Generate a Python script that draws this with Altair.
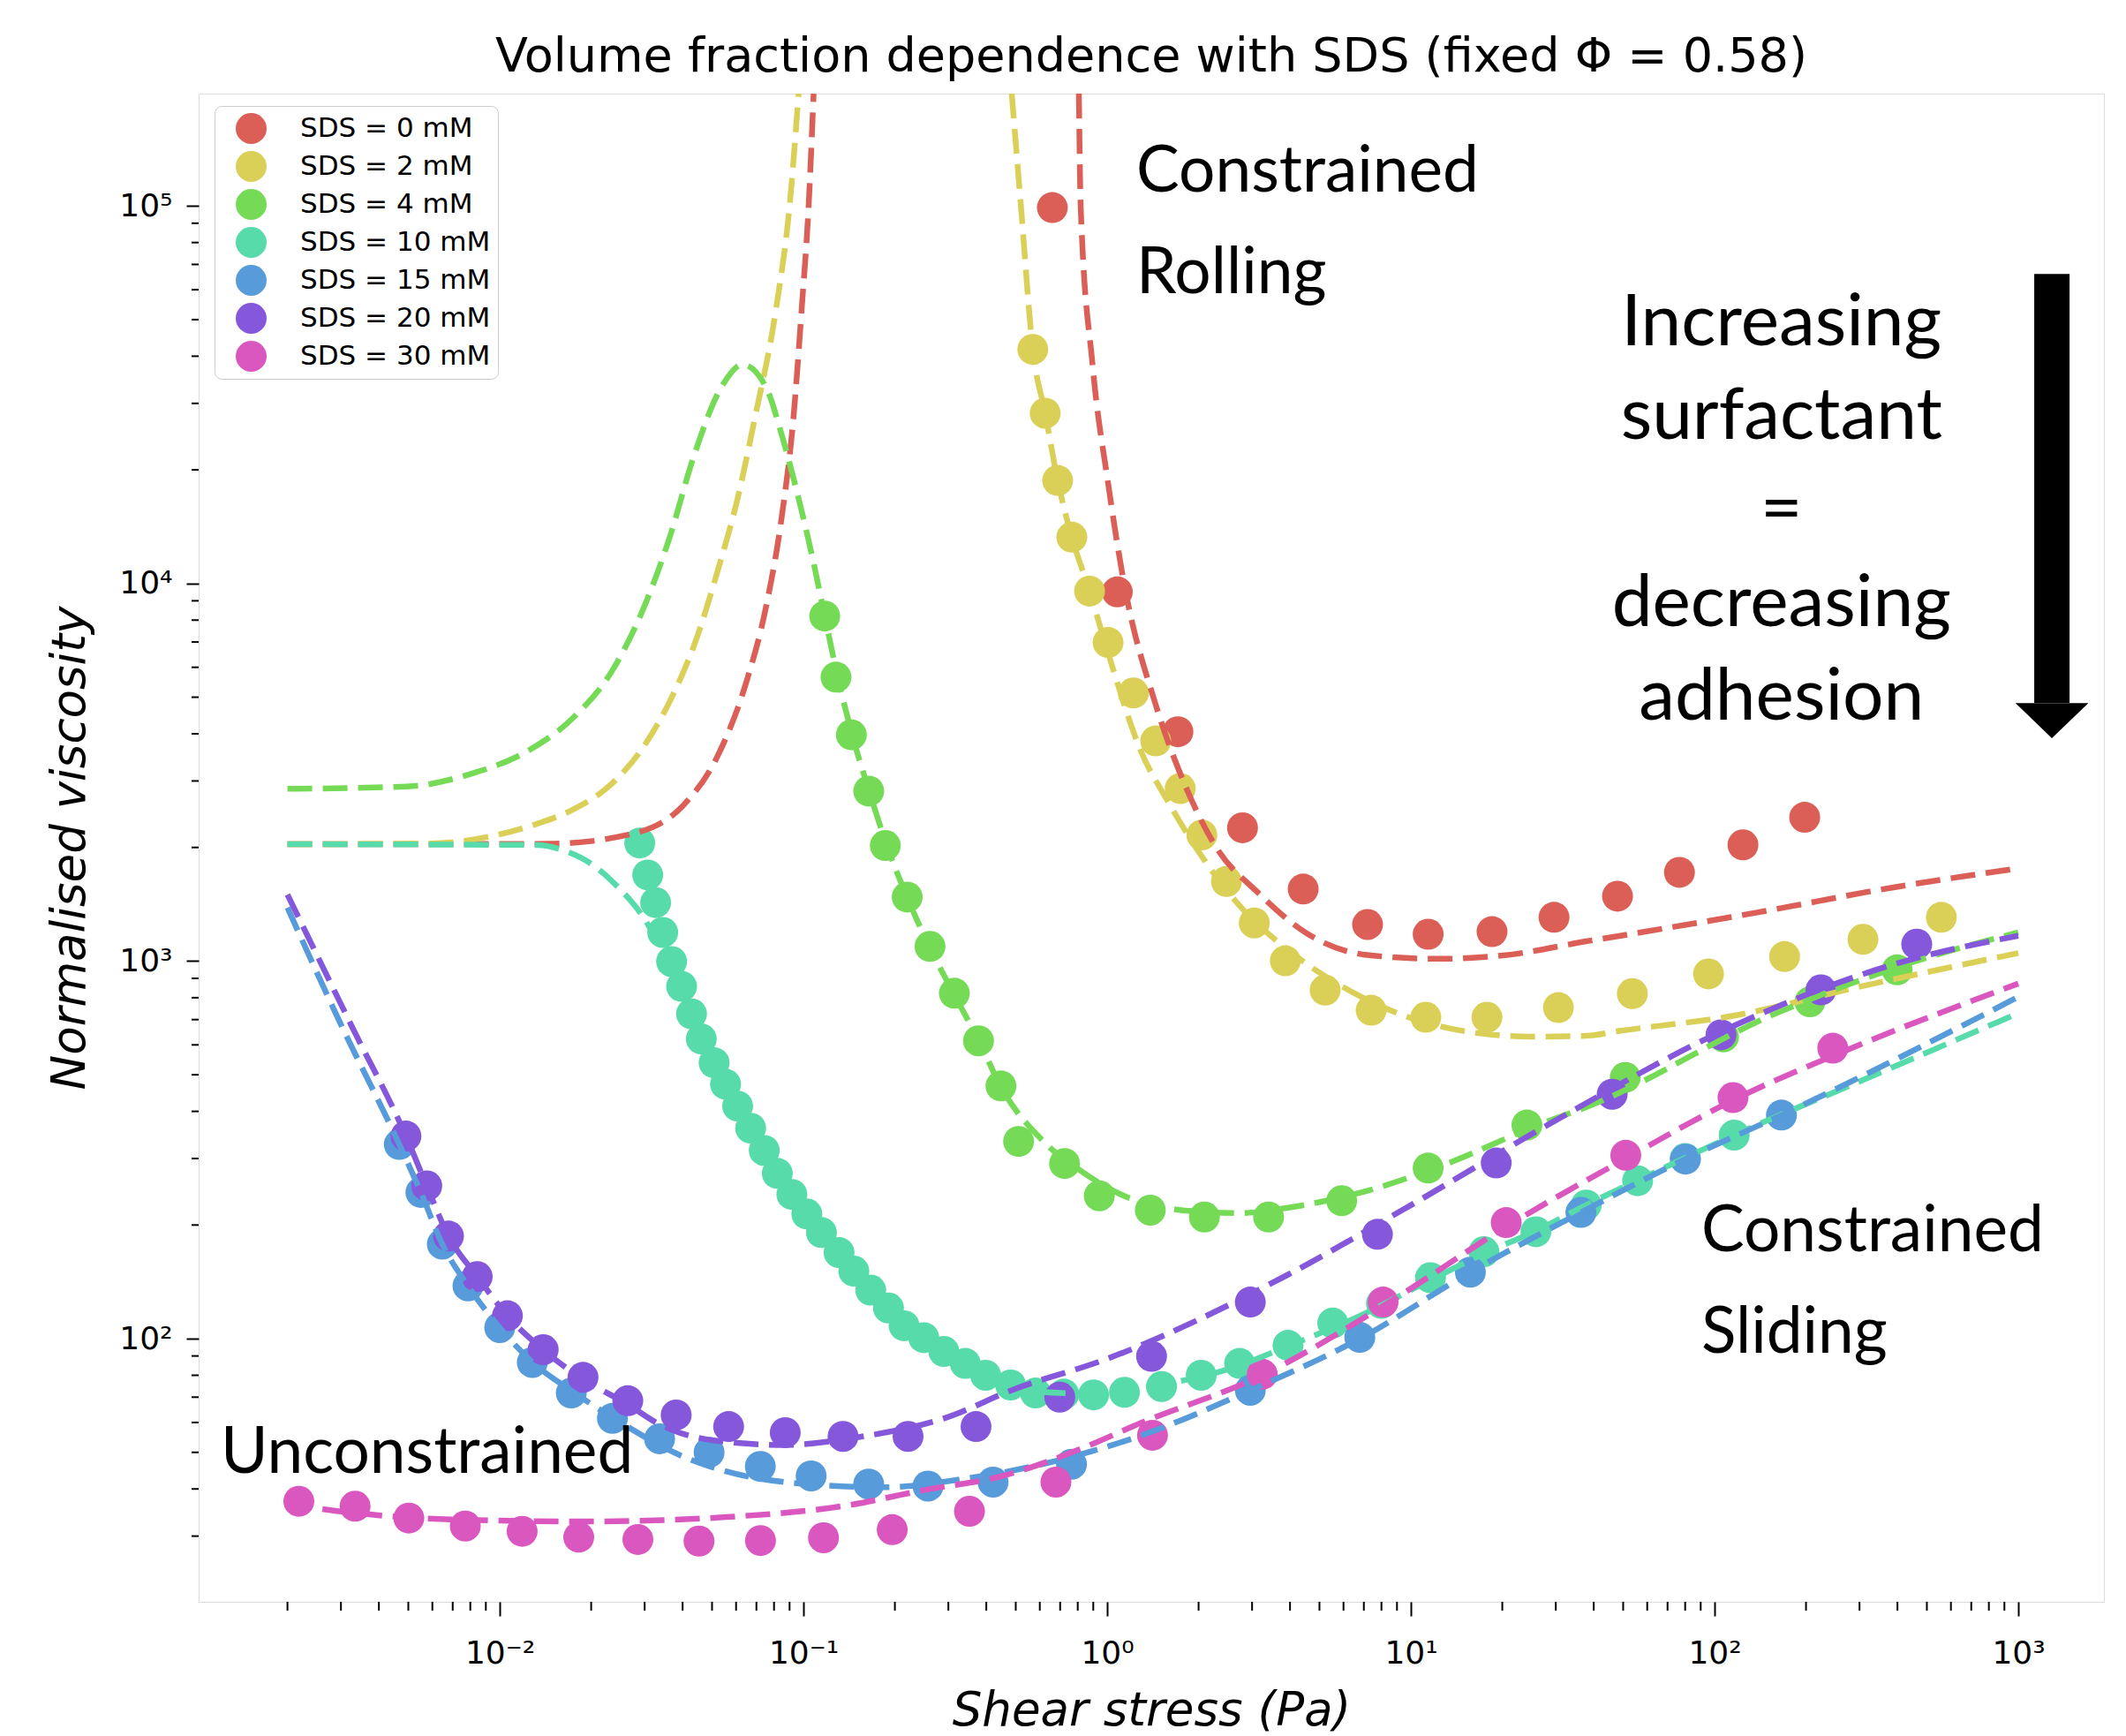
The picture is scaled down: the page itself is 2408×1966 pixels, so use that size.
import altair as alt
import pandas as pd

# ---------------- series ----------------
series_names = ["SDS = 0 mM", "SDS = 2 mM", "SDS = 4 mM", "SDS = 10 mM",
                "SDS = 15 mM", "SDS = 20 mM", "SDS = 30 mM"]
series_colors = ["#db5f57", "#dbd057", "#75db57", "#57dbaa",
                 "#579bdb", "#8457db", "#db57c0"]

# ---------------- measured points ----------------
red_x = [0.66, 1.08, 1.71, 2.79, 4.42, 7.2, 11.4, 18.5, 29.6, 47.9, 76.6, 124, 198]
red_y = [99000, 9500, 4050, 2255, 1552, 1250, 1178, 1197, 1306, 1486, 1718, 2032, 2404]

yellow_x = [0.569, 0.625, 0.687, 0.765, 0.875, 1.007, 1.22, 1.445, 1.74, 2.05, 2.47, 3.05,
            3.86, 5.22, 7.4, 11.2, 17.8, 30.6, 53.6, 95.5, 170, 308, 558]
yellow_y = [41700, 28250, 18750, 13270, 9550, 6980, 5130, 3830, 2865, 2158, 1625, 1262,
            1002, 838, 741, 710, 710, 753, 820, 925, 1028, 1142, 1306]

green_x = [0.1175, 0.128, 0.1438, 0.164, 0.186, 0.2196, 0.261, 0.314, 0.377, 0.447, 0.511,
           0.724, 0.942, 1.387, 2.09, 3.40, 5.92, 11.4, 24.1, 50.8, 107, 206, 399]
green_y = [8200, 5650, 3975, 2820, 2024, 1478, 1094, 822, 615, 467, 333,
           291, 239, 219, 210, 210, 232, 283, 368, 492, 630, 780, 948]

teal_x = [0.0289, 0.0307, 0.0326, 0.0344, 0.0368, 0.0397, 0.0428, 0.0461, 0.0508, 0.0554,
          0.0607, 0.0670, 0.0743, 0.0820, 0.0916, 0.1026, 0.1146, 0.131, 0.1465, 0.1665,
          0.1905, 0.2145, 0.249, 0.290, 0.341, 0.398, 0.481, 0.581, 0.72, 0.902, 1.14,
          1.51, 2.04, 2.73, 3.94, 5.53, 8.0, 11.6, 17.4, 25.8, 37.8, 55.8, 80, 116]
teal_y = [2055, 1691, 1429, 1191, 997, 857, 725, 622, 538, 472,
          413, 361, 315, 274, 241, 214, 191, 169, 151, 134.5,
          120.6, 108.2, 100.6, 92.5, 86.0, 80.0, 75.4, 71.8, 71.3, 71.0, 72.1,
          74.7, 80, 86, 96, 110, 124, 145, 170, 192, 226, 262, 300, 346]

blue_x = [0.00467, 0.0055, 0.00647, 0.00786, 0.0100, 0.0128, 0.0172, 0.0235, 0.0336, 0.0489,
          0.0721, 0.106, 0.164, 0.257, 0.421, 0.763, 2.96, 6.79, 15.7, 36.3, 80.2, 166]
blue_y = [327, 244, 178, 138, 107, 86.5, 71.8, 61.5, 54.3, 50.0,
          45.9, 43.3, 41.2, 40.7, 41.7, 46.5, 73, 100.8, 150, 216, 299, 391]

purple_x = [0.00491, 0.00575, 0.00678, 0.00843, 0.0106, 0.0139, 0.0188, 0.0264, 0.0381, 0.0567,
            0.0871, 0.135, 0.221, 0.370, 0.698, 1.40, 2.96, 7.76, 19.1, 46, 105, 224, 463]
purple_y = [344, 254, 187, 146, 115, 93.5, 79, 68.5, 62.8, 58.5,
            56.4, 55.1, 55.1, 58.5, 70.0, 89.8, 125, 189, 292, 444, 638, 839, 1109]

pink_x = [0.00218, 0.00334, 0.00502, 0.0077, 0.01185, 0.0182, 0.0285, 0.0453, 0.0722, 0.1164,
          0.196, 0.352, 0.678, 1.41, 3.24, 8.1, 20.6, 51, 115, 245]
pink_y = [37.1, 36.0, 33.5, 31.9, 30.9, 29.8, 29.4, 29.1, 29.2, 29.7,
          31.2, 34.9, 41.7, 55.5, 80.5, 125, 203, 306, 435, 588]

# ---------------- fitted curves ----------------
red_fit_a_x = [0.002, 0.005, 0.009, 0.0145, 0.0264, 0.0401, 0.0525, 0.0647, 0.0752, 0.0848,
               0.0927, 0.0986, 0.104, 0.108]
red_fit_a_y = [2040, 2040, 2042, 2045, 2160, 2580, 3530, 5450, 8630, 15000,
               27500, 53000, 100000, 198400]
red_fit_b_x = [0.807, 0.818, 0.895, 1.007, 1.135, 1.445, 1.79, 2.27, 3.16, 4.53, 7.06,
               12.1, 20.1, 37.7, 48.5, 138, 392, 1000]
red_fit_b_y = [198400, 99800, 38000, 18450, 10070, 4775, 2970, 2020, 1510, 1186, 1040,
               1014, 1035, 1128, 1166, 1345, 1570, 1760]

yellow_fit_a_x = [0.002, 0.006, 0.00927, 0.0133, 0.0174, 0.0234, 0.0298, 0.0367, 0.0439,
                  0.0525, 0.0609, 0.0688, 0.0812, 0.09, 0.0964]
yellow_fit_a_y = [2040, 2050, 2138, 2312, 2518, 2951, 3705, 4966, 6950,
                  10990, 16980, 26860, 53300, 100000, 198400]
yellow_fit_b_x = [0.485, 0.52, 0.569, 0.625, 0.687, 0.765, 0.875, 1.01, 1.29, 1.59, 2.02,
                  2.72, 3.89, 6.09, 9.55, 15.4, 24.8, 37.7, 48.5, 119, 292, 1000]
yellow_fit_b_y = [198400, 100000, 41700, 28250, 18750, 13270, 9550, 6500, 3607, 2637, 1927,
                  1406, 1079, 847, 716, 650, 631, 634, 653, 720, 851, 1050]

green_fit_x = [0.002, 0.00495, 0.008, 0.0125, 0.0174, 0.0234, 0.0298, 0.0367, 0.0428, 0.0543,
               0.063, 0.0755, 0.085, 0.0958, 0.108, 0.1175, 0.13, 0.145, 0.165, 0.19, 0.22,
               0.26, 0.31, 0.38, 0.45, 0.61, 0.82, 1.21, 2.0, 2.72, 3.89, 6.87, 12.9, 27.1,
               37.7, 160, 392, 1000]
green_fit_y = [2860, 2900, 3130, 3620, 4400, 5860, 8630, 13650, 20800, 33650,
               38000, 32950, 24600, 17140, 11350, 8200, 5600, 3950, 2800, 1980, 1470,
               1090, 830, 610, 460, 336, 278, 234, 217, 215, 222, 244, 289, 372,
               410, 728, 959, 1192]

teal_fit_x = [0.002, 0.0133, 0.0164, 0.0202, 0.0248, 0.0289, 0.0335, 0.0397, 0.0461, 0.0554,
              0.067, 0.082, 0.1026, 0.131, 0.1665, 0.2145, 0.29, 0.398, 0.58, 0.9, 1.5, 2.5,
              4.0, 6.8, 11.6, 17.4, 25.8, 37.8, 56, 116, 300, 1000]
teal_fit_y = [2040, 2030, 1958, 1800, 1555, 1349, 1110, 850, 622, 472,
              361, 274, 214, 169, 134.5, 108.2, 92.5, 80.0, 72.5, 71.5, 75.5, 83,
              96, 115, 143, 168, 193, 226, 263, 346, 480, 728]

blue_fit_x = [0.002, 0.00298, 0.00467, 0.0055, 0.00647, 0.00786, 0.01, 0.0128, 0.0169, 0.0228,
              0.0415, 0.0558, 0.1016, 0.185, 0.336, 0.61, 1.3, 2.96, 6.79, 15.7, 36.3, 80,
              166, 1000]
blue_fit_y = [1385, 687, 327, 244, 178, 138, 107, 86.7, 73.5, 62.8,
              48.2, 44.5, 41.2, 40.4, 42.5, 46.5, 55.5, 73, 100, 150, 216, 299,
              391, 804]

purple_fit_x = [0.002, 0.00326, 0.00491, 0.00575, 0.00678, 0.00843, 0.0106, 0.0139, 0.0188,
                0.0264, 0.0327, 0.0512, 0.0875, 0.15, 0.29, 0.495, 0.986, 3.89, 9.55, 29.7,
                105, 392, 1000]
purple_fit_y = [1500, 671, 344, 254, 187, 146, 115, 93.5, 78,
                67, 60, 53.7, 52.3, 54.8, 61.5, 73.5, 88.1, 147, 221, 377,
                650, 982, 1167]

pink_fit_x = [0.002, 0.00326, 0.007, 0.0196, 0.0558, 0.137, 0.249, 0.453, 0.824, 1.29, 3.24,
              8.1, 20.6, 51, 115, 300, 1000]
pink_fit_y = [36.5, 34.6, 33.2, 32.8, 33.7, 36.1, 39.7, 43.3, 51.2, 59.8, 80,
              122, 198, 300, 428, 600, 872]

# ---------------- axis ticks ----------------
x_domain = [0.00102, 1914]
y_domain = [20.1, 198400]
x_major = [0.01, 0.1, 1.0, 10.0, 100.0, 1000.0]
x_major_labels = ["10⁻²", "10⁻¹", "10⁰", "10¹", "10²", "10³"]
y_major = [100.0, 1000.0, 10000.0, 100000.0]
y_major_labels = ["10²", "10³", "10⁴", "10⁵"]
x_minor = [round(k * 10.0 ** d, 8) for d in range(-3, 3) for k in range(2, 10)
           if x_domain[0] <= k * 10.0 ** d <= x_domain[1]]
y_minor = [round(k * 10.0 ** d, 8) for d in range(1, 6) for k in range(2, 10)
           if y_domain[0] <= k * 10.0 ** d <= y_domain[1]]

# ---------------- annotations ----------------
ann_left_text = ["Constrained", "Rolling", "Constrained", "Sliding", "Unconstrained"]
ann_left_x = [1.247, 1.247, 90.4, 90.4, 0.001205]
ann_left_y = [109100, 58750, 170.9, 91.9, 44.1]

ann_center_text = ["Increasing", "surfactant", "=", "decreasing", "adhesion"]
ann_center_x = [166, 166, 166, 166, 166]
ann_center_y = [42760, 24150, 13650, 7710, 4355]

arrow_x = 1290
arrow_top_y = 66070
arrow_base_y = 4830
arrow_head_y = 4335

# ---------------- build tables ----------------
point_sets = [(red_x, red_y), (yellow_x, yellow_y), (green_x, green_y), (teal_x, teal_y),
              (blue_x, blue_y), (purple_x, purple_y), (pink_x, pink_y)]
rows = []
for i, (name, (xs, ys)) in enumerate(zip(series_names, point_sets)):
    for xv, yv in zip(xs, ys):
        rows.append({"series": name, "sidx": i, "x": xv, "y": yv})
points_df = pd.DataFrame(rows)

curve_sets = [
    (0, "a", red_fit_a_x, red_fit_a_y), (0, "b", red_fit_b_x, red_fit_b_y),
    (1, "a", yellow_fit_a_x, yellow_fit_a_y), (1, "b", yellow_fit_b_x, yellow_fit_b_y),
    (2, "a", green_fit_x, green_fit_y), (3, "a", teal_fit_x, teal_fit_y),
    (4, "a", blue_fit_x, blue_fit_y), (5, "a", purple_fit_x, purple_fit_y),
    (6, "a", pink_fit_x, pink_fit_y),
]
crow = []
for si, br, xs, ys in curve_sets:
    for k, (xv, yv) in enumerate(zip(xs, ys)):
        crow.append({"fit": series_names[si], "seg": f"{si}{br}", "idx": k, "x": xv, "y": yv})
curves_df = pd.DataFrame(crow)

minor_x_df = pd.DataFrame({"x": x_minor})
minor_y_df = pd.DataFrame({"y": y_minor})
ann_left_df = pd.DataFrame({"t": ann_left_text, "x": ann_left_x, "y": ann_left_y})
ann_center_df = pd.DataFrame({"t": ann_center_text, "x": ann_center_x, "y": ann_center_y})
shaft_df = pd.DataFrame({"x": [arrow_x], "y": [arrow_top_y], "y2": [arrow_base_y]})
head_df = pd.DataFrame({"x": [arrow_x], "y": [arrow_head_y]})

# ---------------- encodings ----------------
W, H = 2158, 1708
FONT = "DejaVu Sans"


def label_expr(vals, labels):
    parts = [f"datum.value == {v!r} ? '{l}'" for v, l in zip(vals, labels)]
    return " : ".join(parts) + " : ''"


x_axis = alt.Axis(
    values=x_major, labelExpr=label_expr(x_major, x_major_labels),
    title="Shear stress (Pa)", grid=False, domain=False,
    tickColor="black", tickWidth=2, tickSize=16,
    labelFont=FONT, labelFontSize=36, labelColor="black",
    labelBaseline="alphabetic", labelPadding=53, labelOverlap=False, labelFlush=False,
    titleFont=FONT, titleFontSize=53, titleFontStyle="italic", titleFontWeight="normal",
    titleColor="black", titleX=W / 2, titleY=139, titleBaseline="alphabetic",
    titleAlign="center",
)
y_axis = alt.Axis(
    values=y_major, labelExpr=label_expr(y_major, y_major_labels),
    title="Normalised viscosity", grid=False, domain=False,
    tickColor="black", tickWidth=2, tickSize=14,
    labelFont=FONT, labelFontSize=36, labelColor="black",
    labelPadding=16, labelOverlap=False, labelFlush=False, labelBaseline="middle",
    titleFont=FONT, titleFontSize=53, titleFontStyle="italic", titleFontWeight="normal",
    titleColor="black", titleX=-130, titleY=H / 2, titleBaseline="alphabetic",
    titleAlign="center", titleAngle=270,
)
xs_ = alt.Scale(type="log", domain=x_domain, nice=False, zero=False)
ys_ = alt.Scale(type="log", domain=y_domain, nice=False, zero=False)
X = alt.X("x:Q", scale=xs_, axis=x_axis)
Y = alt.Y("y:Q", scale=ys_, axis=y_axis)

legend = alt.Legend(
    title=None, orient="none", legendX=18, legendY=14,
    padding=8, symbolOffset=16, labelOffset=38, rowPadding=8,
    symbolSize=1225, symbolType="circle", symbolStrokeWidth=0, symbolOpacity=1,
    labelFont=FONT, labelFontSize=31, labelColor="black", labelLimit=500,
    strokeColor="#cccccc", fillColor="white", cornerRadius=8,
)

points = alt.Chart(points_df).mark_circle(size=1225, opacity=1).encode(
    x=X, y=Y,
    color=alt.Color("series:N", scale=alt.Scale(domain=series_names, range=series_colors),
                    legend=legend, sort=series_names),
    order=alt.Order("sidx:Q"),
)

lines = alt.Chart(curves_df).mark_line(
    strokeWidth=6.5, strokeDash=[28, 12], clip=True, interpolate="monotone"
).encode(
    x=X, y=Y,
    color=alt.Color("fit:N", scale=alt.Scale(domain=series_names, range=series_colors),
                    legend=None),
    detail="seg:N",
    order=alt.Order("idx:Q"),
)

minor_x = alt.Chart(minor_x_df).mark_rule(color="black", strokeWidth=2, clip=False).encode(
    x=X, y=alt.value(H), y2=alt.value(H + 10))
minor_y = alt.Chart(minor_y_df).mark_rule(color="black", strokeWidth=2, clip=False).encode(
    y=Y, x=alt.value(0), x2=alt.value(-8))

ann_left = alt.Chart(ann_left_df).mark_text(
    font="Lato", fontSize=73, align="left", baseline="alphabetic", color="black"
).encode(x=X, y=Y, text="t:N")
ann_center = alt.Chart(ann_center_df).mark_text(
    font="Lato", fontSize=82, align="center", baseline="alphabetic", color="black"
).encode(x=X, y=Y, text="t:N")

shaft = alt.Chart(shaft_df).mark_rule(color="black", strokeWidth=40, strokeCap="butt").encode(
    x=X, y=Y, y2="y2:Q")
head = alt.Chart(head_df).mark_point(
    shape="M-1,-0.48L1,-0.48L0,0.48Z", filled=True, size=6830, color="black",
    opacity=1, strokeWidth=0
).encode(x=X, y=Y)

chart = alt.layer(points, lines, minor_x, minor_y, ann_left, ann_center, shaft, head).properties(
    width=W, height=H,
    title=alt.Title("Volume fraction dependence with SDS (fixed Φ = 0.58)",
                    font=FONT, fontSize=54, fontWeight="normal", color="black",
                    anchor="middle", frame="group", baseline="alphabetic", offset=26,
                    dy=55),
    autosize=alt.AutoSizeParams(type="none"),
    padding={"left": 225, "top": 106, "right": 25, "bottom": 152},
).resolve_scale(color="independent").configure_view(
    stroke="black", strokeWidth=2.5
).configure(background="white")

chart.save("out.html", embed_options={"renderer": "svg", "actions": False})
